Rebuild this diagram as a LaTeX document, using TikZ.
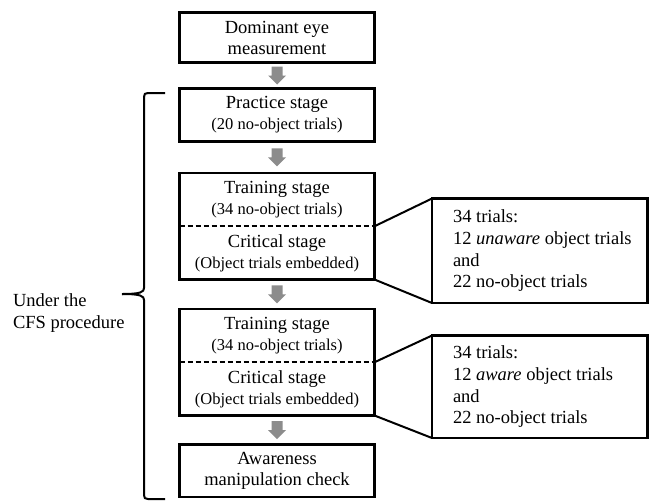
\documentclass[tikz,border=0pt]{standalone}
\usepackage{fontspec}
\setmainfont{Liberation Serif}
\usetikzlibrary{calc}
\definecolor{arrowgray}{RGB}{140,140,140}
\newcommand\mysizeA{\fontsize{18.5}{21}\selectfont}
\newcommand\mysizeB{\fontsize{16.5}{21}\selectfont}
\newcommand\mysizeC{\fontsize{18.5}{21.7}\selectfont}
\begin{document}
\begin{tikzpicture}[x=1pt,y=-1pt,
  box/.style={draw, line width=2.5pt, minimum width=195pt, align=center, inner sep=0pt, outer sep=0pt, font=\mysizeA},
  rbox/.style={draw, line width=2.5pt, minimum width=215.5pt, inner sep=0pt, outer sep=0pt},
  txt/.style={align=center, inner sep=0pt, outer sep=0pt, font=\mysizeA},
  rtxt/.style={align=left, inner sep=0pt, outer sep=0pt, font=\mysizeC, anchor=west},
  divider/.style={line width=1.8pt, dash pattern=on 5pt off 3pt},
  conn/.style={line width=2pt},
  bracepath/.style={line width=2pt},
  garrow/.pic={\fill[arrowgray] (-5.5,-9) -- (5.5,-9) -- (5.5,0) -- (9,0) -- (0,9) -- (-9,0) -- (-5.5,0) -- cycle;}
]
\useasboundingbox (0,0) rectangle (650,501);

% left column
\node[box, minimum height=50pt] (b1) at (277,37.5) {Dominant eye\\measurement};
\node[box, minimum height=53pt] (b2) at (277,115) {Practice stage\\{\mysizeB (20 no-object trials)}};

\node[box, minimum height=106.5pt] (b3) at (277,226.25) {};
\draw[divider] (b3.west) -- (b3.east);
\node[txt] (b3a) at ($(b3.north)!0.5!(b3.center)$) {Training stage\\{\mysizeB (34 no-object trials)}};
\node[txt] (b3b) at ($(b3.center)!0.5!(b3.south)$) {Critical stage\\{\mysizeB (Object trials embedded)}};

\node[box, minimum height=106.5pt] (b4) at (277,362.25) {};
\draw[divider] (b4.west) -- (b4.east);
\node[txt] (b4a) at ($(b4.north)!0.5!(b4.center)$) {Training stage\\{\mysizeB (34 no-object trials)}};
\node[txt] (b4b) at ($(b4.center)!0.5!(b4.south)$) {Critical stage\\{\mysizeB (Object trials embedded)}};

\node[box, minimum height=52.5pt] (b5) at (277,470.75) {Awareness\\manipulation check};

% arrows
\path ($(b1.south)!0.5!(b2.north)$) pic {garrow};
\path ($(b2.south)!0.5!(b3.north)$) pic {garrow};
\path ($(b3.south)!0.5!(b4.north)$) pic {garrow};
\path ($(b4.south)!0.5!(b5.north)$) pic {garrow};

% right boxes
\node[rbox, minimum height=104.5pt] (r1) at (539.75,250.75) {};
\node[rtxt] (r1t) at ($(r1.west)+(21,0)$) {34 trials:\\12 \textit{unaware} object trials\\and\\22 no-object trials};
\node[rbox, minimum height=102.5pt] (r2) at (539.75,386.75) {};
\node[rtxt] (r2t) at ($(r2.west)+(21,0)$) {34 trials:\\12 \textit{aware} object trials\\and\\22 no-object trials};

\draw[conn] (b3.east) -- (r1.north west);
\draw[conn] (b3.south east) -- (r1.south west);
\draw[conn] (b4.east) -- (r2.north west);
\draw[conn] (b4.south east) -- (r2.south west);

% brace
\draw[bracepath] (165,93) -- (148,93) .. controls (145,93) and (144,94) .. (144,97)
  -- (144,288) .. controls (144,292) and (141,294) .. (122,294);
\draw[bracepath] (122,294) .. controls (141,294) and (144,296) .. (144,300)
  -- (144,495) .. controls (144,498) and (145,499) .. (148,499) -- (165,499);
\node[align=left, inner sep=0pt, outer sep=0pt, font=\fontsize{18.5}{22}\selectfont, anchor=west] (lbl) at (13,313) {Under the\\CFS procedure};
\end{tikzpicture}
\end{document}
